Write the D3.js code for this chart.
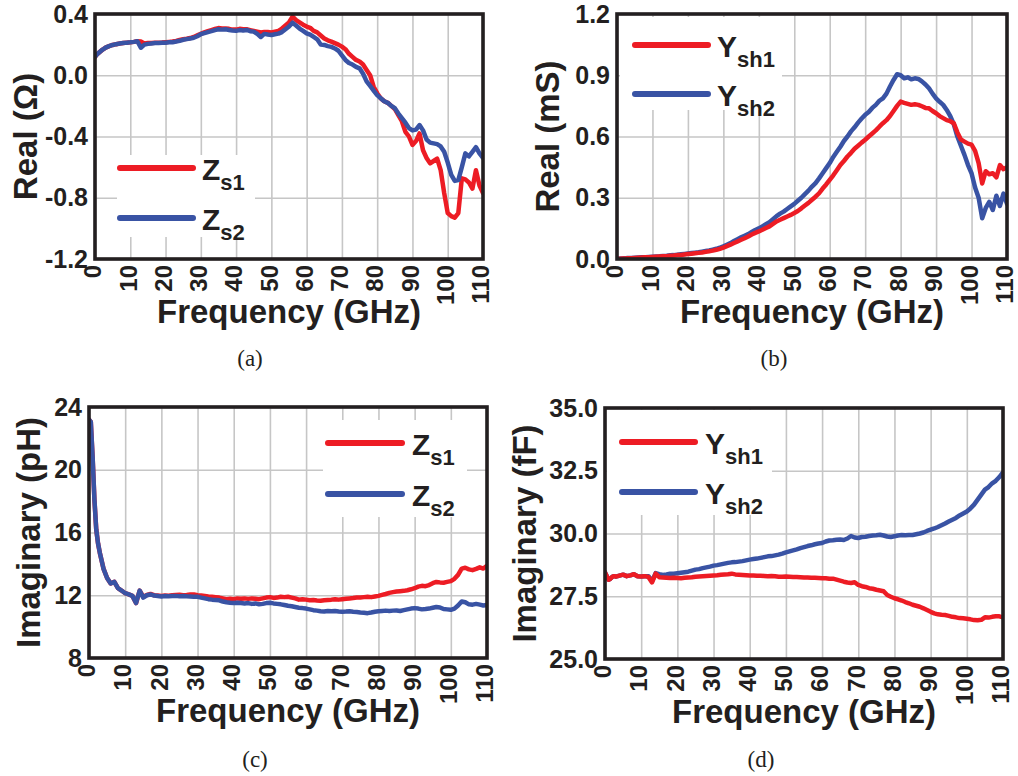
<!DOCTYPE html>
<html>
<head>
<meta charset="utf-8">
<script src="https://cdn.jsdelivr.net/npm/d3@7"></script>
<style>
  body { margin: 0; background: #fff; }
  svg { display: block; }
</style>
</head>
<body>
<svg id="fig" width="1018" height="776"></svg>
<script>
// Frequency sample points (GHz): finer spacing below 3 GHz
const freqLow = [0, 0.5, 1, 1.5, 2, 2.5, 3];
const freq = freqLow.concat(d3.range(4, 111));

// (a) Real part of series impedance (ohm)
const zs1Re = [0.12,0.135,0.145,0.155,0.165,0.172,0.18,
  0.19,0.198,0.203,0.207,0.21,0.213,0.215,0.218,0.222,0.22,
  0.208,0.21,0.21,0.212,0.213,0.214,0.216,0.218,0.22,0.224,
  0.23,0.235,0.238,0.243,0.25,0.26,0.27,0.28,0.288,0.295,
  0.302,0.308,0.305,0.306,0.303,0.298,0.298,0.303,0.3,0.3,
  0.295,0.29,0.285,0.28,0.283,0.282,0.28,0.285,0.29,0.305,
  0.325,0.345,0.383,0.36,0.345,0.33,0.318,0.31,0.29,0.28,
  0.26,0.24,0.228,0.22,0.21,0.2,0.187,0.17,0.14,0.12,
  0.1,0.09,0.07,0.035,0.0,-0.075,-0.117,-0.15,-0.17,-0.18,
  -0.2,-0.22,-0.26,-0.3,-0.37,-0.4,-0.455,-0.43,-0.38,-0.49,
  -0.54,-0.575,-0.56,-0.545,-0.62,-0.77,-0.9,-0.92,-0.93,-0.9,
  -0.673,-0.68,-0.7,-0.74,-0.62,-0.72,-0.77];
const zs2Re = [0.12,0.135,0.145,0.155,0.165,0.172,0.18,
  0.19,0.198,0.203,0.207,0.21,0.213,0.215,0.218,0.222,0.18,
  0.2,0.205,0.208,0.21,0.21,0.212,0.212,0.215,0.216,0.22,
  0.225,0.232,0.236,0.24,0.245,0.255,0.268,0.275,0.282,0.288,
  0.295,0.3,0.298,0.3,0.296,0.292,0.29,0.295,0.292,0.296,
  0.288,0.285,0.27,0.25,0.27,0.266,0.263,0.268,0.272,0.282,
  0.3,0.318,0.343,0.325,0.305,0.29,0.274,0.265,0.25,0.235,
  0.2,0.198,0.19,0.185,0.175,0.16,0.13,0.1,0.08,0.07,
  0.055,0.045,0.01,-0.04,-0.07,-0.1,-0.13,-0.15,-0.17,-0.18,
  -0.2,-0.215,-0.25,-0.28,-0.31,-0.345,-0.36,-0.355,-0.325,-0.36,
  -0.42,-0.44,-0.445,-0.45,-0.465,-0.5,-0.57,-0.65,-0.69,-0.685,
  -0.6,-0.51,-0.53,-0.5,-0.47,-0.51,-0.54];

// (b) Real part of shunt admittance (mS)
const ysh1Re = [0,0.001,0.001,0.002,0.003,0.003,0.004,
  0.004,0.005,0.006,0.007,0.008,0.009,0.01,0.011,0.012,0.013,
  0.014,0.016,0.017,0.019,0.02,0.022,0.024,0.026,0.028,0.03,
  0.032,0.035,0.038,0.041,0.045,0.05,0.056,0.063,0.07,0.078,
  0.086,0.094,0.102,0.11,0.12,0.128,0.135,0.143,0.152,0.16,
  0.172,0.184,0.192,0.2,0.208,0.216,0.225,0.235,0.248,0.262,
  0.275,0.29,0.305,0.322,0.345,0.365,0.388,0.41,0.435,0.46,
  0.48,0.502,0.52,0.54,0.555,0.57,0.584,0.6,0.615,0.63,
  0.648,0.665,0.68,0.7,0.725,0.75,0.771,0.765,0.76,0.755,
  0.758,0.755,0.748,0.74,0.738,0.725,0.714,0.7,0.69,0.68,
  0.675,0.665,0.62,0.585,0.575,0.565,0.56,0.53,0.47,0.37,
  0.43,0.415,0.42,0.4,0.46,0.44,0.45];
const ysh2Re = [0,0.001,0.002,0.003,0.004,0.004,0.005,
  0.005,0.006,0.007,0.008,0.009,0.01,0.011,0.012,0.013,0.015,
  0.016,0.018,0.019,0.021,0.023,0.025,0.027,0.029,0.031,0.033,
  0.036,0.039,0.042,0.046,0.05,0.055,0.062,0.07,0.078,0.088,
  0.097,0.106,0.114,0.122,0.132,0.142,0.15,0.16,0.17,0.18,
  0.195,0.21,0.222,0.232,0.245,0.258,0.27,0.285,0.3,0.318,
  0.335,0.355,0.372,0.395,0.42,0.445,0.47,0.5,0.525,0.55,
  0.578,0.6,0.625,0.645,0.668,0.688,0.706,0.72,0.74,0.755,
  0.775,0.787,0.81,0.845,0.877,0.905,0.9,0.885,0.89,0.88,
  0.885,0.882,0.87,0.855,0.836,0.81,0.787,0.77,0.755,0.73,
  0.7,0.66,0.6,0.555,0.51,0.46,0.42,0.35,0.3,0.2,
  0.25,0.28,0.24,0.31,0.26,0.32,0.27];

// (c) Imaginary part of series impedance as inductance (pH)
const zs1Im = [23.2,23.05,20.8,18.1,16.2,15.3,14.7,
  13.7,13.1,12.75,12.85,12.45,12.3,12.13,12.05,11.96,11.5,
  12.3,11.9,12.02,12.08,12.0,11.98,11.96,11.98,11.97,12.0,
  12.02,12.03,12.0,12.02,12.05,12.05,12.0,11.98,11.95,11.92,
  11.9,11.88,11.85,11.8,11.75,11.78,11.75,11.8,11.78,11.8,
  11.77,11.8,11.78,11.75,11.8,11.85,11.88,11.83,11.85,11.9,
  11.88,11.9,11.85,11.8,11.72,11.75,11.72,11.68,11.7,11.67,
  11.65,11.68,11.7,11.72,11.75,11.72,11.75,11.78,11.8,11.82,
  11.85,11.86,11.88,11.9,11.88,11.92,11.96,12.02,12.08,12.15,
  12.2,12.24,12.26,12.28,12.32,12.38,12.45,12.55,12.6,12.58,
  12.65,12.77,12.85,12.82,12.8,12.85,12.9,13.05,13.3,13.7,
  13.75,13.65,13.6,13.68,13.78,13.7,13.88];
const zs2Im = [23.2,23.05,20.8,18.1,16.2,15.3,14.7,
  13.7,13.1,12.75,12.85,12.45,12.3,12.13,12.05,11.96,11.5,
  12.3,11.85,12.0,12.05,11.98,11.95,11.92,11.95,11.93,11.95,
  11.96,11.94,11.95,11.93,11.92,11.9,11.9,11.85,11.8,11.75,
  11.72,11.7,11.68,11.6,11.55,11.52,11.5,11.52,11.5,11.48,
  11.5,11.45,11.48,11.42,11.45,11.5,11.52,11.48,11.45,11.42,
  11.38,11.33,11.3,11.25,11.2,11.18,11.15,11.1,11.05,11.02,
  10.98,10.97,11.0,10.98,11.0,10.97,10.95,10.96,10.98,10.95,
  10.93,10.9,10.88,10.86,10.9,10.95,10.98,11.0,11.02,11.0,
  11.02,11.03,11.0,11.05,11.1,11.15,11.18,11.15,11.1,11.12,
  11.15,11.2,11.25,11.22,11.12,11.1,11.07,11.15,11.35,11.6,
  11.55,11.42,11.4,11.45,11.4,11.35,11.38];

// (d) Imaginary part of shunt admittance as capacitance (fF)
const ysh1Im = [28.45,28.3,28.16,28.2,28.27,28.3,28.28,
  28.32,28.36,28.3,28.33,28.38,28.3,28.29,28.3,28.27,28.05,
  28.4,28.26,28.25,28.24,28.23,28.24,28.23,28.22,28.24,28.25,
  28.26,28.28,28.29,28.3,28.31,28.32,28.33,28.34,28.36,28.37,
  28.38,28.4,28.37,28.36,28.35,28.34,28.33,28.33,28.32,28.32,
  28.31,28.3,28.31,28.3,28.28,28.28,28.29,28.28,28.27,28.27,
  28.26,28.25,28.25,28.24,28.24,28.23,28.22,28.22,28.2,28.2,
  28.16,28.12,28.08,28.05,28.03,28.06,27.95,27.9,27.87,27.82,
  27.8,27.76,27.73,27.7,27.55,27.48,27.42,27.38,27.33,27.27,
  27.22,27.16,27.12,27.08,27.02,26.95,26.88,26.82,26.78,26.76,
  26.75,26.72,26.68,26.66,26.63,26.62,26.6,26.58,26.55,26.54,
  26.56,26.66,26.65,26.68,26.7,26.7,26.66];
const ysh2Im = [28.45,28.3,28.16,28.2,28.27,28.3,28.28,
  28.32,28.36,28.3,28.33,28.38,28.3,28.29,28.3,28.3,28.1,
  28.42,28.38,28.35,28.37,28.4,28.4,28.42,28.44,28.46,28.48,
  28.52,28.56,28.58,28.62,28.65,28.68,28.72,28.74,28.77,28.8,
  28.83,28.85,28.86,28.88,28.9,28.93,28.96,28.98,29.0,29.03,
  29.06,29.09,29.1,29.13,29.16,29.2,29.25,29.29,29.33,29.37,
  29.42,29.46,29.5,29.53,29.57,29.6,29.62,29.68,29.72,29.73,
  29.75,29.76,29.74,29.8,29.9,29.84,29.82,29.86,29.87,29.9,
  29.92,29.93,29.95,29.92,29.88,29.86,29.89,29.92,29.94,29.93,
  29.94,29.94,29.97,30.0,30.04,30.1,30.15,30.2,30.26,30.33,
  30.4,30.48,30.55,30.62,30.72,30.8,30.88,31.0,31.15,31.35,
  31.55,31.75,31.85,32.0,32.1,32.25,32.44];

// Axis ticks and their labels
const freqTicks = [0,10,20,30,40,50,60,70,80,90,100,110];
const reZTicks = [0.4, 0.0, -0.4, -0.8, -1.2];
const reZLabels = ["0.4", "0.0", "-0.4", "-0.8", "-1.2"];
const reYTicks = [1.2, 0.9, 0.6, 0.3, 0.0];
const reYLabels = ["1.2", "0.9", "0.6", "0.3", "0.0"];
const imZTicks = [24, 20, 16, 12, 8];
const imZLabels = ["24", "20", "16", "12", "8"];
const imYTicks = [35, 32.5, 30, 27.5, 25];
const imYLabels = ["35.0", "32.5", "30.0", "27.5", "25.0"];

const RED = "#ed1c24", BLUE = "#3953a4";
const FONT = "'Liberation Sans', Arial, Helvetica, sans-serif";

const panels = [
  { box: {x: 95, y: 14, w: 388, h: 245}, dom: [-1.2, 0.4], ticks: reZTicks, labels: reZLabels,
    yTitle: "Real (\u03A9)", yTitleX: 37, caption: "(a)", capX: 250, capY: 366,
    series: [ {vals: zs1Re, color: RED, main: "Z", sub: "s1"}, {vals: zs2Re, color: BLUE, main: "Z", sub: "s2"} ],
    drawOrder: [0, 1],
    legend: {bg: [117, 155, 138, 82], x1: 120, x2: 193, y0: 168, dy: 50, tx: 202} },
  { box: {x: 617, y: 14, w: 390, h: 245}, dom: [0, 1.2], ticks: reYTicks, labels: reYLabels,
    yTitle: "Real (mS)", yTitleX: 559, caption: "(b)", capX: 774, capY: 366,
    series: [ {vals: ysh1Re, color: RED, main: "Y", sub: "sh1"}, {vals: ysh2Re, color: BLUE, main: "Y", sub: "sh2"} ],
    drawOrder: [1, 0],
    legend: {bg: [620, 17, 162, 93], x1: 635, x2: 708, y0: 45, dy: 49, tx: 717} },
  { box: {x: 89, y: 407, w: 398, h: 251}, dom: [8, 24], ticks: imZTicks, labels: imZLabels,
    yTitle: "Imaginary (pH)", yTitleX: 40, caption: "(c)", capX: 255, capY: 767,
    series: [ {vals: zs1Im, color: RED, main: "Z", sub: "s1"}, {vals: zs2Im, color: BLUE, main: "Z", sub: "s2"} ],
    drawOrder: [0, 1],
    legend: {bg: [323, 420, 144, 97], x1: 328, x2: 402, y0: 443, dy: 51, tx: 412} },
  { box: {x: 605, y: 408, w: 398, h: 251}, dom: [25, 35], ticks: imYTicks, labels: imYLabels,
    yTitle: "Imaginary (fF)", yTitleX: 536, caption: "(d)", capX: 761, capY: 767,
    series: [ {vals: ysh1Im, color: RED, main: "Y", sub: "sh1"}, {vals: ysh2Im, color: BLUE, main: "Y", sub: "sh2"} ],
    drawOrder: [1, 0],
    legend: {bg: [607, 410, 165, 105], x1: 622, x2: 695, y0: 442, dy: 50, tx: 705} }
];

const svg = d3.select("#fig");
svg.append("rect").attr("width", 1018).attr("height", 776).attr("fill", "#fff");

panels.forEach((p, i) => {
  const b = p.box;
  const x = d3.scaleLinear().domain([0, 110]).range([0, b.w]);
  const y = d3.scaleLinear().domain(p.dom).range([b.h, 0]);
  const g = svg.append("g").attr("transform", `translate(${b.x},${b.y})`);

  // grid
  const gx = g.append("g").attr("transform", `translate(0,${b.h})`)
    .call(d3.axisBottom(x).tickValues(freqTicks).tickSize(-b.h).tickFormat(""));
  const gy = g.append("g")
    .call(d3.axisLeft(y).tickValues(p.ticks).tickSize(-b.w).tickFormat(""));
  [gx, gy].forEach(a => {
    a.select(".domain").remove();
    a.selectAll("line").attr("stroke", "#c6c6c6").attr("stroke-width", 1.6);
  });

  // data lines
  const clipId = "clip" + i;
  g.append("clipPath").attr("id", clipId).append("rect").attr("width", b.w).attr("height", b.h);
  const line = d3.line().x((d, k) => x(freq[k])).y(d => y(d));
  p.drawOrder.forEach(si => {
    const s = p.series[si];
    g.append("path").datum(s.vals)
      .attr("clip-path", `url(#${clipId})`)
      .attr("d", line)
      .attr("fill", "none").attr("stroke", s.color)
      .attr("stroke-width", 4.5).attr("stroke-linejoin", "round").attr("stroke-linecap", "round");
  });

  // legend
  const L = p.legend;
  svg.append("rect").attr("x", L.bg[0]).attr("y", L.bg[1]).attr("width", L.bg[2]).attr("height", L.bg[3]).attr("fill", "#fff");
  p.series.forEach((s, k) => {
    const yy = L.y0 + k * L.dy;
    svg.append("line").attr("x1", L.x1).attr("x2", L.x2).attr("y1", yy).attr("y2", yy)
      .attr("stroke", s.color).attr("stroke-width", 6).attr("stroke-linecap", "round");
    const t = svg.append("text").attr("x", L.tx).attr("y", yy + 12)
      .attr("font-family", FONT).attr("font-weight", "bold").attr("font-size", 30).attr("fill", "#231f20");
    t.append("tspan").text(s.main);
    t.append("tspan").attr("dy", 10).attr("font-size", 22).text(s.sub);
  });

  // frame
  g.append("rect").attr("width", b.w).attr("height", b.h)
    .attr("fill", "none").attr("stroke", "#231f20").attr("stroke-width", 3.6);

  // tick labels
  const ay = g.append("g")
    .call(d3.axisLeft(y).tickValues(p.ticks).tickSize(0).tickPadding(7)
      .tickFormat((d, k) => p.labels[k]));
  const ax = g.append("g").attr("transform", `translate(0,${b.h})`)
    .call(d3.axisBottom(x).tickValues(freqTicks).tickSize(0).tickFormat(d => String(d)));
  [ax, ay].forEach(a => {
    a.select(".domain").remove();
    a.selectAll("text").attr("font-family", FONT).attr("font-weight", "bold")
      .attr("font-size", 25).attr("fill", "#231f20");
  });
  ax.selectAll("text").attr("font-size", 24).attr("transform", "rotate(-90)")
    .attr("x", -6).attr("y", 0).attr("dy", "0.24em").attr("text-anchor", "end");

  // axis titles
  svg.append("text").attr("x", b.x + b.w / 2).attr("y", b.y + b.h + 64)
    .attr("text-anchor", "middle").attr("font-family", FONT).attr("font-weight", "bold")
    .attr("font-size", 33).attr("fill", "#231f20").text("Frequency (GHz)");
  svg.append("text").attr("transform", `translate(${p.yTitleX},${b.y + b.h / 2}) rotate(-90)`)
    .attr("text-anchor", "middle").attr("font-family", FONT).attr("font-weight", "bold")
    .attr("font-size", 33).attr("fill", "#231f20").text(p.yTitle);

  // caption
  svg.append("text").attr("x", p.capX).attr("y", p.capY).attr("text-anchor", "middle")
    .attr("font-family", "'Liberation Serif', 'Times New Roman', serif").attr("font-size", 23)
    .attr("fill", "#231f20").text(p.caption);
});
</script>
</body>
</html>
